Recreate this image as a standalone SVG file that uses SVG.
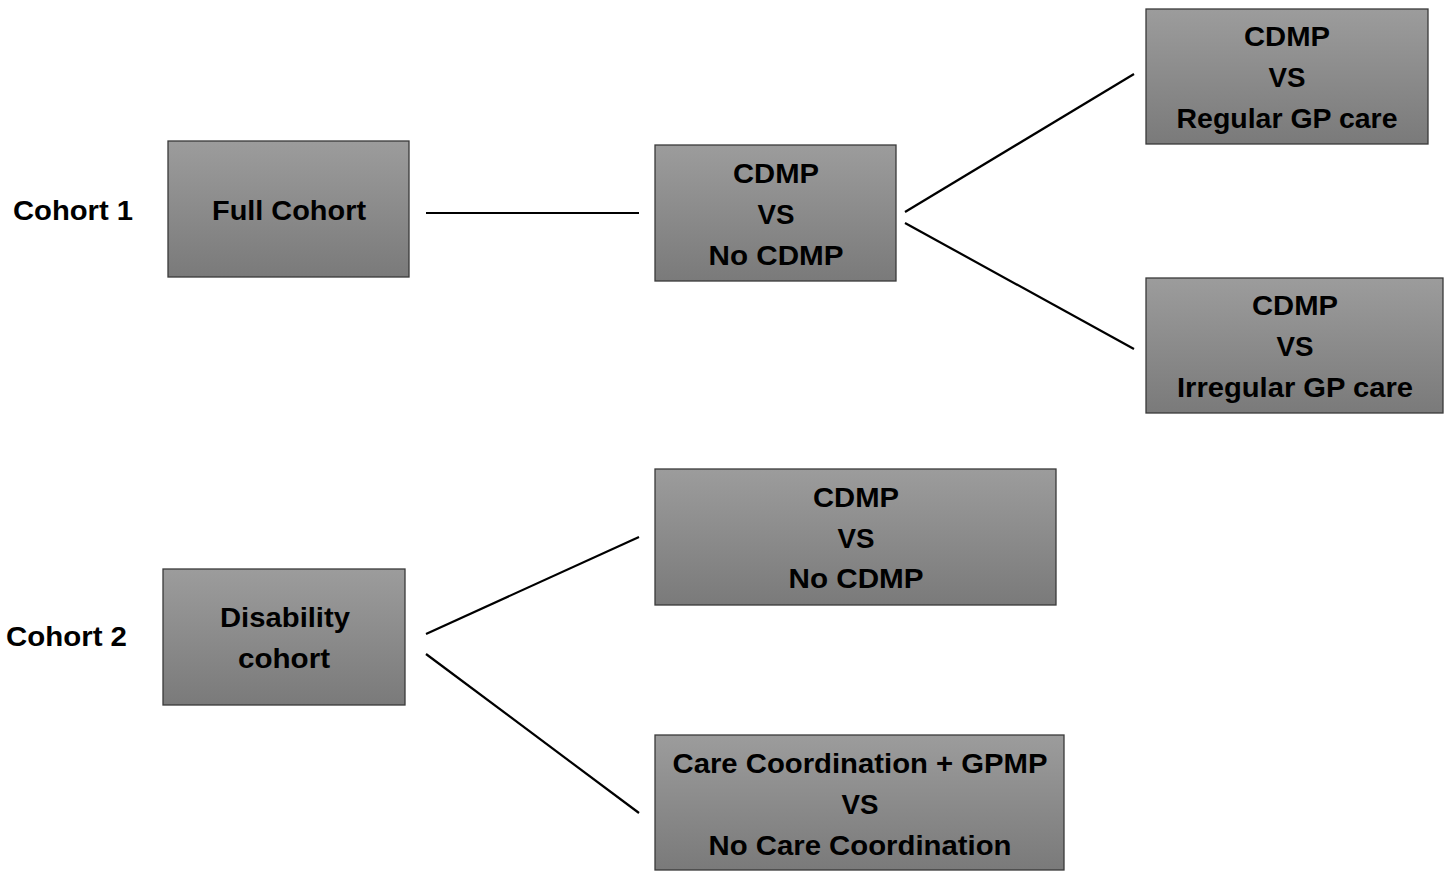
<svg xmlns="http://www.w3.org/2000/svg" width="1451" height="871" viewBox="0 0 1451 871">
<defs>
<linearGradient id="g" x1="0" y1="0" x2="0" y2="1">
<stop offset="0" stop-color="#9c9c9c"/>
<stop offset="1" stop-color="#7a7a7a"/>
</linearGradient>
</defs>
<style>
.box{fill:url(#g);stroke:#3a3a3a;stroke-width:1.3}
text{font-family:"Liberation Sans",Arial,sans-serif;font-weight:bold;font-size:28px;fill:#000;text-anchor:middle}
.lbl{text-anchor:start}
.c line{stroke:#000;stroke-width:2.2}
</style>
<rect width="1451" height="871" fill="#fff"/>
<g class="c" id="connectors">
<line x1="426" y1="213" x2="639" y2="213"/>
<line x1="905" y1="212" x2="1134" y2="74"/>
<line x1="905" y1="223" x2="1134" y2="349"/>
<line x1="426" y1="634" x2="639" y2="537"/>
<line x1="426" y1="654" x2="639" y2="813"/>
</g>
<g id="cohort1"><text class="lbl" x="13" y="220" textLength="120" lengthAdjust="spacingAndGlyphs">Cohort 1</text></g>
<g id="cohort2"><text class="lbl" x="6" y="646" textLength="121" lengthAdjust="spacingAndGlyphs">Cohort 2</text></g>
<g id="full">
<rect class="box" x="168" y="141" width="241" height="136"/>
<text x="289" y="220" textLength="154" lengthAdjust="spacingAndGlyphs">Full Cohort</text>
</g>
<g id="cdmp1">
<rect class="box" x="655" y="145" width="241" height="136"/>
<text x="776" y="183" textLength="86" lengthAdjust="spacingAndGlyphs">CDMP</text>
<text x="776" y="224" textLength="37" lengthAdjust="spacingAndGlyphs">VS</text>
<text x="776" y="265" textLength="135" lengthAdjust="spacingAndGlyphs">No CDMP</text>
</g>
<g id="regular">
<rect class="box" x="1146" y="9" width="282" height="135"/>
<text x="1287" y="46" textLength="86" lengthAdjust="spacingAndGlyphs">CDMP</text>
<text x="1287" y="87" textLength="37" lengthAdjust="spacingAndGlyphs">VS</text>
<text x="1287" y="128" textLength="221" lengthAdjust="spacingAndGlyphs">Regular GP care</text>
</g>
<g id="irregular">
<rect class="box" x="1146" y="278" width="297" height="135"/>
<text x="1295" y="315" textLength="86" lengthAdjust="spacingAndGlyphs">CDMP</text>
<text x="1295" y="356" textLength="37" lengthAdjust="spacingAndGlyphs">VS</text>
<text x="1295" y="397" textLength="236" lengthAdjust="spacingAndGlyphs">Irregular GP care</text>
</g>
<g id="disability">
<rect class="box" x="163" y="569" width="242" height="136"/>
<text x="285" y="627" textLength="130" lengthAdjust="spacingAndGlyphs">Disability</text>
<text x="284" y="668" textLength="92" lengthAdjust="spacingAndGlyphs">cohort</text>
</g>
<g id="cdmp2">
<rect class="box" x="655" y="469" width="401" height="136"/>
<text x="856" y="507" textLength="86" lengthAdjust="spacingAndGlyphs">CDMP</text>
<text x="856" y="548" textLength="37" lengthAdjust="spacingAndGlyphs">VS</text>
<text x="856" y="588" textLength="135" lengthAdjust="spacingAndGlyphs">No CDMP</text>
</g>
<g id="care">
<rect class="box" x="655" y="735" width="409" height="135"/>
<text x="860" y="773" textLength="375" lengthAdjust="spacingAndGlyphs">Care Coordination + GPMP</text>
<text x="860" y="814" textLength="37" lengthAdjust="spacingAndGlyphs">VS</text>
<text x="860" y="855" textLength="303" lengthAdjust="spacingAndGlyphs">No Care Coordination</text>
</g>
</svg>
